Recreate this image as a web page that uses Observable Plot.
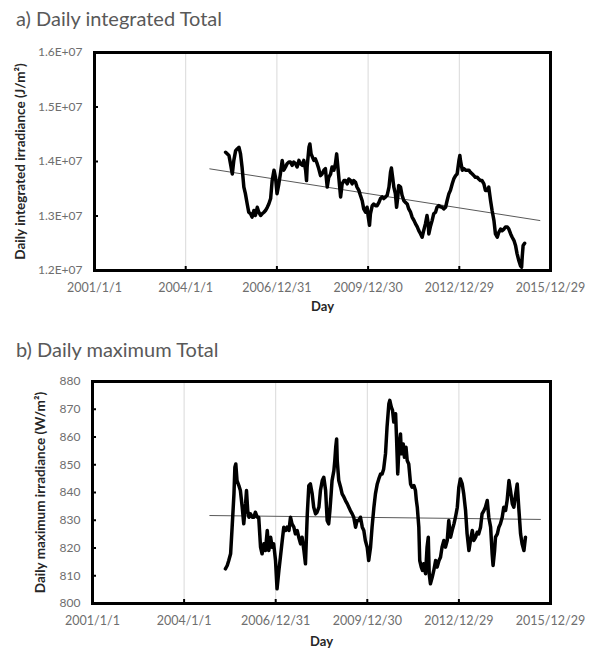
<!DOCTYPE html>
<html>
<head>
<meta charset="utf-8">
<script src="https://cdn.jsdelivr.net/npm/d3@7"></script>
<script src="https://cdn.jsdelivr.net/npm/@observablehq/plot@0.6"></script>
<style>
  html, body { margin: 0; padding: 0; background: #fff; }
  #wrap { position: relative; width: 595px; height: 653px; font-family: Lato, "Open Sans", sans-serif; }
  .title { position: absolute; left: 16px; font-size: 20px; line-height: 20px; color: #595959; white-space: nowrap; }
  .panel { position: absolute; left: 0; }
</style>
</head>
<body>
<div id="wrap">
  <div class="title" id="titleA" style="top:8px">a) Daily integrated Total</div>
  <div class="panel" id="panelA" style="top:40px"></div>
  <div class="title" id="titleB" style="top:339px">b) Daily maximum Total</div>
  <div class="panel" id="panelB" style="top:370px"></div>
</div>
<script>
// ---- x-axis tick dates (Excel date axis, 1095-day major unit) ----
const xTickStrings = ["2001-01-01","2004-01-01","2006-12-31","2009-12-30","2012-12-29","2015-12-29"];

// ---- Panel a: daily integrated total irradiance (decimal year, value in 1e7 J/m²) ----
const yearA = [2005.31,2005.42,2005.47,2005.53,2005.58,2005.64,2005.69,2005.75,2005.80,2005.85,2005.91,2005.96,2006.02,2006.07,2006.13,2006.18,2006.24,2006.29,2006.35,2006.40,2006.46,2006.51,2006.57,2006.62,2006.68,2006.73,2006.79,2006.84,2006.90,2006.95,2007.00,2007.06,2007.11,2007.17,2007.22,2007.28,2007.33,2007.39,2007.44,2007.50,2007.55,2007.61,2007.66,2007.72,2007.77,2007.83,2007.88,2007.94,2007.97,2007.99,2008.05,2008.08,2008.12,2008.21,2008.26,2008.32,2008.37,2008.43,2008.48,2008.54,2008.59,2008.65,2008.70,2008.76,2008.81,2008.87,2008.92,2008.96,2009.01,2009.06,2009.09,2009.14,2009.20,2009.25,2009.31,2009.36,2009.42,2009.47,2009.52,2009.58,2009.63,2009.69,2009.74,2009.80,2009.85,2009.91,2009.96,2010.00,2010.04,2010.07,2010.13,2010.18,2010.24,2010.29,2010.35,2010.40,2010.46,2010.51,2010.57,2010.62,2010.68,2010.73,2010.76,2010.80,2010.84,2010.89,2010.93,2010.97,2011.00,2011.06,2011.11,2011.17,2011.22,2011.28,2011.33,2011.39,2011.44,2011.50,2011.55,2011.61,2011.66,2011.72,2011.77,2011.82,2011.88,2011.93,2011.97,2011.99,2012.04,2012.10,2012.15,2012.21,2012.26,2012.32,2012.37,2012.43,2012.48,2012.54,2012.59,2012.65,2012.70,2012.76,2012.81,2012.87,2012.92,2012.98,2013.01,2013.03,2013.09,2013.14,2013.20,2013.25,2013.31,2013.36,2013.42,2013.47,2013.52,2013.58,2013.63,2013.69,2013.74,2013.80,2013.85,2013.91,2013.96,2014.02,2014.07,2014.13,2014.18,2014.24,2014.29,2014.35,2014.40,2014.46,2014.51,2014.57,2014.62,2014.68,2014.73,2014.79,2014.84,2014.89,2014.95,2015.00,2015.04,2015.06,2015.09,2015.14];
const valA = [1.417,1.411,1.396,1.377,1.402,1.420,1.423,1.426,1.414,1.390,1.353,1.341,1.322,1.307,1.304,1.298,1.310,1.301,1.316,1.307,1.301,1.304,1.307,1.310,1.316,1.322,1.332,1.365,1.384,1.371,1.341,1.359,1.377,1.402,1.384,1.390,1.396,1.399,1.399,1.393,1.399,1.396,1.390,1.402,1.396,1.393,1.402,1.384,1.365,1.390,1.426,1.432,1.414,1.402,1.405,1.396,1.387,1.374,1.377,1.384,1.387,1.353,1.371,1.377,1.390,1.384,1.396,1.414,1.384,1.353,1.335,1.359,1.365,1.365,1.359,1.368,1.365,1.359,1.365,1.362,1.353,1.347,1.338,1.328,1.313,1.307,1.316,1.298,1.283,1.304,1.319,1.322,1.319,1.319,1.325,1.332,1.335,1.332,1.335,1.338,1.353,1.380,1.388,1.371,1.353,1.341,1.316,1.335,1.356,1.353,1.338,1.328,1.325,1.322,1.313,1.307,1.298,1.292,1.286,1.280,1.273,1.267,1.261,1.273,1.286,1.301,1.286,1.267,1.280,1.292,1.304,1.307,1.316,1.319,1.317,1.316,1.313,1.316,1.328,1.341,1.347,1.359,1.368,1.374,1.377,1.402,1.411,1.402,1.384,1.387,1.384,1.384,1.384,1.380,1.377,1.374,1.371,1.371,1.368,1.365,1.365,1.359,1.347,1.347,1.353,1.328,1.310,1.292,1.267,1.261,1.270,1.276,1.273,1.276,1.280,1.280,1.276,1.267,1.261,1.255,1.246,1.231,1.218,1.209,1.206,1.225,1.246,1.250];
const trendYearA = [2004.79, 2015.64];
const trendValA = [1.3865, 1.2917];
const yTicksA = [1.2e7, 1.3e7, 1.4e7, 1.5e7, 1.6e7];

// ---- Panel b: daily maximum total irradiance (decimal year, W/m²) ----
const yearB = [2005.35,2005.41,2005.46,2005.52,2005.57,2005.63,2005.66,2005.69,2005.73,2005.79,2005.84,2005.90,2005.95,2006.01,2006.04,2006.08,2006.12,2006.17,2006.23,2006.28,2006.33,2006.39,2006.44,2006.50,2006.55,2006.61,2006.66,2006.72,2006.77,2006.83,2006.88,2006.93,2006.99,2007.04,2007.10,2007.15,2007.21,2007.26,2007.32,2007.37,2007.43,2007.48,2007.53,2007.59,2007.64,2007.70,2007.75,2007.81,2007.86,2007.92,2007.97,2008.03,2008.08,2008.13,2008.19,2008.24,2008.30,2008.35,2008.41,2008.46,2008.52,2008.57,2008.63,2008.68,2008.73,2008.77,2008.81,2008.84,2008.90,2008.93,2008.96,2008.99,2009.01,2009.06,2009.12,2009.17,2009.23,2009.28,2009.34,2009.39,2009.44,2009.50,2009.55,2009.61,2009.66,2009.72,2009.77,2009.83,2009.88,2009.93,2009.99,2010.04,2010.10,2010.15,2010.21,2010.26,2010.32,2010.37,2010.43,2010.48,2010.53,2010.59,2010.64,2010.70,2010.73,2010.78,2010.82,2010.86,2010.92,2010.95,2010.99,2011.03,2011.08,2011.11,2011.17,2011.21,2011.26,2011.30,2011.35,2011.41,2011.46,2011.52,2011.57,2011.60,2011.63,2011.68,2011.71,2011.76,2011.80,2011.84,2011.90,2011.95,2011.99,2012.02,2012.06,2012.12,2012.17,2012.23,2012.28,2012.34,2012.39,2012.44,2012.50,2012.55,2012.61,2012.66,2012.72,2012.77,2012.83,2012.88,2012.94,2012.99,2013.04,2013.10,2013.15,2013.21,2013.26,2013.32,2013.37,2013.43,2013.48,2013.54,2013.59,2013.64,2013.70,2013.75,2013.81,2013.86,2013.92,2013.97,2014.03,2014.08,2014.11,2014.16,2014.19,2014.25,2014.30,2014.35,2014.41,2014.46,2014.52,2014.57,2014.63,2014.68,2014.74,2014.79,2014.85,2014.90,2014.95,2015.01,2015.06,2015.12,2015.17];
const valB = [812.5,813.7,815.5,817.9,827.5,839.5,849.1,850.3,844.3,842.5,840.7,834.7,828.7,835.9,840.7,833.5,831.1,832.3,831.1,831.1,832.9,831.1,831.1,820.3,817.9,821.5,819.1,826.3,819.1,823.9,820.3,821.5,815.5,805.3,811.9,816.7,822.7,827.5,826.3,827.5,826.3,831.1,828.7,827.5,825.1,826.3,823.9,821.5,823.9,819.1,814.3,832.3,842.5,843.1,839.5,834.7,832.3,832.9,834.7,840.7,844.3,845.5,840.7,829.9,828.7,833.5,839.5,844.3,847.9,851.5,856.3,859.3,851.5,844.3,841.9,839.5,838.3,837.1,835.9,834.7,833.5,832.3,831.1,827.5,829.9,829.9,831.1,827.5,826.3,822.7,820.3,815.5,820.3,827.5,834.7,839.5,843.1,844.9,846.7,846.7,848.5,854.0,863.6,872.0,873.2,870.8,869.6,865.4,868.4,859.9,846.7,856.3,861.1,854.0,857.5,852.7,856.3,851.5,850.3,843.1,841.9,842.5,840.7,837.1,834.7,827.5,815.5,813.1,811.9,814.3,810.7,820.3,823.9,810.7,807.1,809.5,811.9,815.5,813.1,815.5,816.7,820.3,822.7,820.3,822.7,829.9,823.9,826.3,828.7,831.1,834.7,841.9,844.9,843.1,839.5,833.5,825.1,819.1,822.7,826.3,822.7,823.9,825.7,825.1,827.5,832.3,833.5,834.7,837.1,831.1,827.5,817.9,813.7,819.1,823.9,825.1,827.5,828.7,831.1,834.7,833.5,837.1,844.3,840.7,835.9,834.7,839.5,843.1,834.7,825.1,821.5,819.1,823.9];
const trendYearB = [2004.84, 2015.66];
const trendValB = [831.7, 830.3];
const yTicksB = [800, 810, 820, 830, 840, 850, 860, 870, 880];

// ---- helpers ----
const DAY = 864e5;
const toDate = y => new Date(Date.UTC(2001, 0, 1) + (y - 2001) * 365.25 * DAY);
const xTicks = xTickStrings.map(s => new Date(s + "T00:00:00Z"));
const fmtDate = d => `${d.getUTCFullYear()}/${d.getUTCMonth() + 1}/${d.getUTCDate()}`;

const dataA = yearA.slice(0, Math.min(yearA.length, valA.length)).map((y, i) => ({date: toDate(y), v: valA[i] * 1e7}));
const trendA = trendYearA.map((y, i) => ({date: toDate(y), v: trendValA[i] * 1e7}));
const dataB = yearB.slice(0, Math.min(yearB.length, valB.length)).map((y, i) => ({date: toDate(y), v: valB[i]}));
const trendB = trendYearB.map((y, i) => ({date: toDate(y), v: trendValB[i]}));

const FONT = "Lato, 'Open Sans', sans-serif";
const TICKCOLOR = "#6e6e6e";

function panel({data, trend, yTicks, yDomain, yFmt, yLabel, height, mLeft, mTop, mBottom, labelDx, dayDy}) {
  const W = 595, mRight = 45;
  const innerW = W - mLeft - mRight;
  const innerH = height - mTop - mBottom;
  return Plot.plot({
    width: W, height,
    marginLeft: mLeft, marginRight: mRight, marginTop: mTop, marginBottom: mBottom,
    style: {fontFamily: FONT, background: "transparent", overflow: "visible"},
    x: {type: "utc", domain: [xTicks[0], xTicks[xTicks.length - 1]]},
    y: {domain: yDomain},
    marks: [
      Plot.gridX(xTicks.slice(1, -1), {stroke: "#d9d9d9", strokeOpacity: 1, strokeWidth: 1}),
      Plot.axisX(xTicks, {tickSize: 0, tickPadding: 13, tickFormat: fmtDate, fontSize: 12.5, color: TICKCOLOR, label: null}),
      Plot.axisY(yTicks, {tickSize: 0, tickPadding: 12, tickFormat: yFmt, fontSize: 12, color: TICKCOLOR, label: null}),
      Plot.tickY(yTicks.slice(1, -1), {y: d => d, stroke: "black", strokeWidth: 2, insetRight: innerW - 4}),
      Plot.tickX(xTicks.slice(1, -1), {x: d => d, stroke: "black", strokeWidth: 2, insetTop: innerH - 4}),
      Plot.line(trend, {x: "date", y: "v", stroke: "#595959", strokeWidth: 1}),
      Plot.line(data, {x: "date", y: "v", stroke: "black", strokeWidth: 3.5, strokeLinejoin: "round", strokeLinecap: "round"}),
      Plot.frame({stroke: "black", strokeWidth: 3}),
      Plot.text([yLabel], {frameAnchor: "left", textAnchor: "middle", rotate: -90, dx: labelDx, fontWeight: "bold", fontSize: 13.5, fill: "#262626"}),
      Plot.text(["Day"], {frameAnchor: "bottom", textAnchor: "middle", dy: dayDy, fontWeight: "bold", fontSize: 13, fill: "#262626"})
    ]
  });
}

document.getElementById("panelA").append(panel({
  data: dataA, trend: trendA, yTicks: yTicksA, yDomain: [1.2e7, 1.6e7],
  yFmt: d => (d / 1e7).toFixed(1) + "E+07",
  yLabel: "Daily integrated irradiance (J/m²)",
  height: 285, mLeft: 94, mTop: 12, mBottom: 55, labelDx: -74, dayDy: 40
}));

document.getElementById("panelB").append(panel({
  data: dataB, trend: trendB, yTicks: yTicksB, yDomain: [800, 880],
  yFmt: d => String(d),
  yLabel: "Daily maximum irradiance (W/m²)",
  height: 283, mLeft: 92, mTop: 11, mBottom: 50, labelDx: -52, dayDy: 42
}));
</script>
</body>
</html>
